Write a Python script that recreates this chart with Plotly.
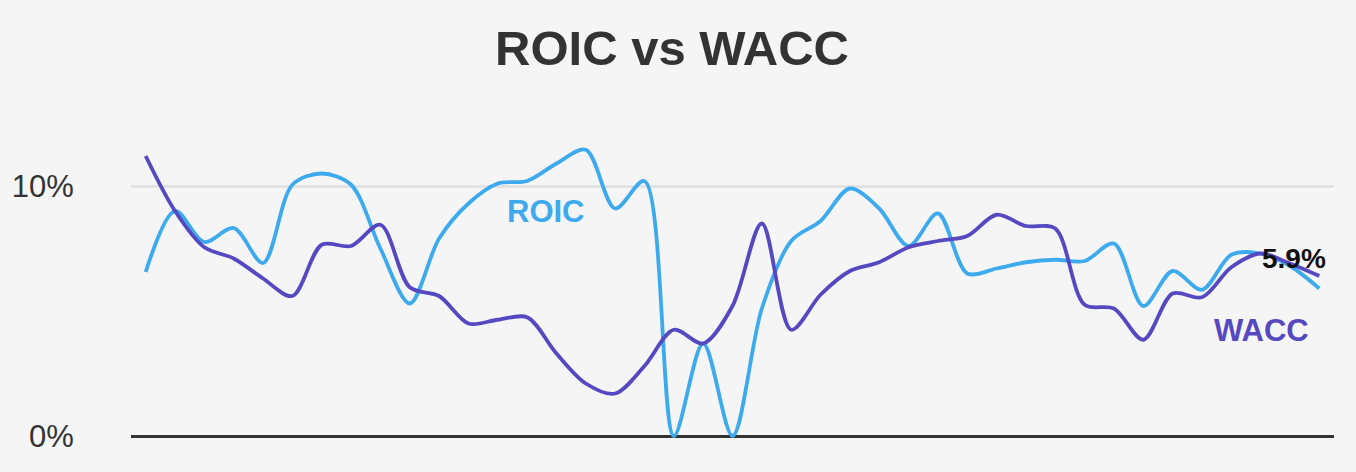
import plotly.graph_objects as go

quarters = list(range(41))

roic = [6.56, 9.0, 7.76, 8.32, 6.92, 10.05, 10.5, 10.05, 7.5, 5.3,
        7.9, 9.3, 10.1, 10.2, 10.9, 11.45, 9.1, 10.2, 0.0, 3.7,
        0.0, 5.1, 7.8, 8.6, 9.9, 9.1, 7.6, 8.9, 6.5, 6.7,
        6.95, 7.05, 7.0, 7.7, 5.2, 6.6, 5.85, 7.25, 7.3, 6.8,
        5.9]

wacc = [11.2, 9.0, 7.55, 7.1, 6.3, 5.6, 7.65, 7.6, 8.45, 5.95,
        5.6, 4.5, 4.65, 4.75, 3.3, 2.1, 1.7, 2.8, 4.25, 3.7,
        5.2, 8.5, 4.25, 5.65, 6.6, 6.95, 7.55, 7.8, 8.0, 8.85,
        8.4, 8.3, 5.25, 5.1, 3.85, 5.7, 5.55, 6.75, 7.3, 6.9,
        6.4]

tick_vals = [0, 10]
tick_text = ["0%", "10%"]

ROIC_COLOR = "#3eaaee"
WACC_COLOR = "#5548c0"
FONT = "Liberation Sans, Arial, sans-serif"

fig = go.Figure()
fig.add_trace(go.Scatter(x=quarters, y=roic, mode="lines", name="ROIC",
                         line=dict(color=ROIC_COLOR, width=3.8, shape="spline", smoothing=0.9)))
fig.add_trace(go.Scatter(x=quarters, y=wacc, mode="lines", name="WACC",
                         line=dict(color=WACC_COLOR, width=3.8, shape="spline", smoothing=0.9)))

fig.update_layout(
    width=1356, height=472,
    paper_bgcolor="#f5f5f5", plot_bgcolor="#f5f5f5",
    margin=dict(l=128, r=22, t=121, b=26),
    showlegend=False,
    title=dict(text="<b>ROIC vs WACC</b>", x=672/1356, xanchor="center",
               y=1-48/472, yanchor="middle", xref="container", yref="container",
               font=dict(family=FONT, size=49, color="#333333")),
    xaxis=dict(range=[-0.5, 40.5], showgrid=False, zeroline=False,
               showticklabels=False, ticks=""),
    yaxis=dict(range=[-0.4, 12.6], tickvals=tick_vals, ticktext=tick_text,
               showgrid=True, gridcolor="#e2e2e2", gridwidth=2.5,
               zeroline=True, zerolinecolor="#333333", zerolinewidth=3,
               ticks="outside", ticklen=50, tickcolor="rgba(0,0,0,0)",
               tickfont=dict(family=FONT, size=31, color="#333333")),
    annotations=[
        dict(x=13.66, y=9.0, xref="x", yref="y", text="<b>ROIC</b>", showarrow=False,
             font=dict(family=FONT, size=31, color=ROIC_COLOR)),
        dict(x=38.02, y=4.24, xref="x", yref="y", text="<b>WACC</b>", showarrow=False,
             font=dict(family=FONT, size=31, color=WACC_COLOR)),
        dict(x=39.14, y=7.12, xref="x", yref="y", text="<b>5.9%</b>", showarrow=False,
             font=dict(family=FONT, size=28, color="#111111")),
    ],
)

fig.write_html("out.html", config={"displayModeBar": False},
               post_script="document.body.style.margin='0';document.body.style.padding='0';document.body.style.overflow='hidden';")
